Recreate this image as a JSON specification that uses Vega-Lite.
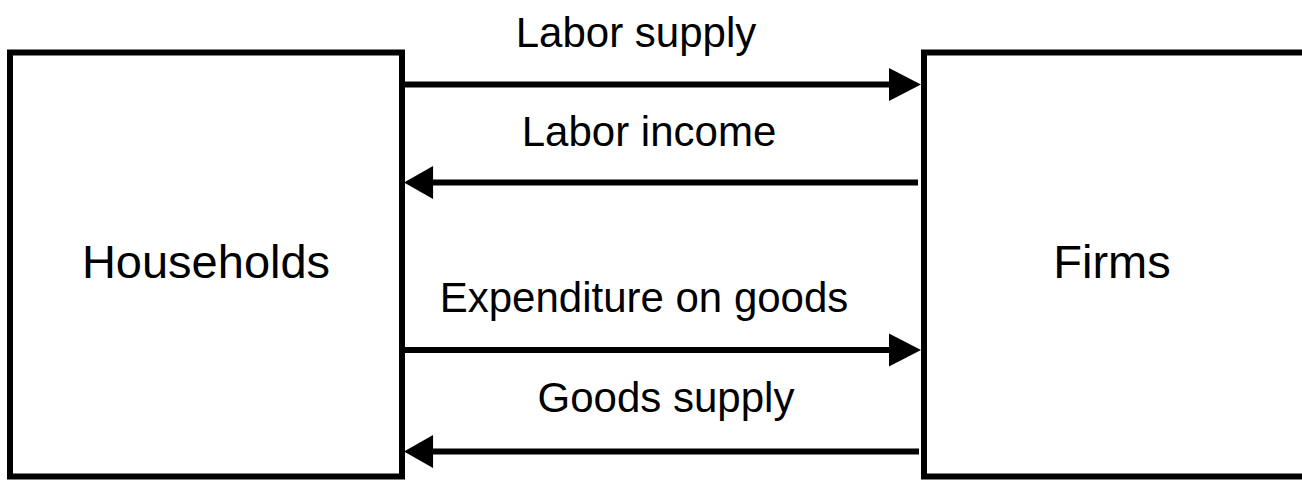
{
  "$schema": "https://vega.github.io/schema/vega-lite/v6.json",
  "width": 1302,
  "height": 480,
  "autosize": {"type": "fit", "contains": "padding"},
  "padding": 0,
  "background": "white",
  "config": {"view": {"stroke": null}, "font": "Liberation Sans"},
  "datasets": {
    "boxes": [
      {"name": "Households", "x0": 10, "x1": 402, "y0": 52.5, "y1": 476.5},
      {"name": "Firms", "x0": 924, "x1": 1345, "y0": 52.5, "y1": 476.5}
    ],
    "flows": [
      {"label": "Labor supply", "dir": "right", "start": 405, "end": 890, "tip": 921, "y": 84.5, "lx": 636, "ly": 47},
      {"label": "Labor income", "dir": "left", "start": 433, "end": 918, "tip": 404, "y": 182.5, "lx": 649, "ly": 146},
      {"label": "Expenditure on goods", "dir": "right", "start": 405, "end": 890, "tip": 921, "y": 350, "lx": 644, "ly": 312},
      {"label": "Goods supply", "dir": "left", "start": 433, "end": 919, "tip": 404, "y": 451.5, "lx": 666, "ly": 411.5}
    ],
    "names": [
      {"name": "Households", "cx": 206, "cy": 278},
      {"name": "Firms", "cx": 1112, "cy": 278}
    ]
  },
  "layer": [
    {
      "data": {"name": "boxes"},
      "mark": {"type": "rect", "fill": "white", "stroke": "black", "strokeWidth": 6, "clip": true},
      "encoding": {
        "x": {"field": "x0", "type": "quantitative", "scale": {"domain": [0, 1302], "nice": false, "zero": false}, "axis": null},
        "x2": {"field": "x1"},
        "y": {"field": "y0", "type": "quantitative", "scale": {"domain": [0, 480], "nice": false, "zero": false, "reverse": true}, "axis": null},
        "y2": {"field": "y1"}
      }
    },
    {
      "data": {"name": "flows"},
      "mark": {"type": "rule", "stroke": "black", "strokeWidth": 6, "strokeCap": "butt"},
      "encoding": {
        "x": {"field": "start", "type": "quantitative"},
        "x2": {"field": "end"},
        "y": {"field": "y", "type": "quantitative"}
      }
    },
    {
      "data": {"name": "flows"},
      "mark": {"type": "point", "filled": true, "color": "black", "opacity": 1, "size": 1089, "strokeWidth": 0},
      "encoding": {
        "x": {"field": "tip", "type": "quantitative"},
        "y": {"field": "y", "type": "quantitative"},
        "shape": {"field": "dir", "type": "nominal", "legend": null,
          "scale": {"domain": ["right", "left"], "range": ["M0,0L-1.94,-1L-1.94,1Z", "M0,0L1.76,-1L1.76,1Z"]}}
      }
    },
    {
      "data": {"name": "flows"},
      "mark": {"type": "text", "fontSize": 42, "color": "black", "align": "center", "baseline": "alphabetic"},
      "encoding": {
        "x": {"field": "lx", "type": "quantitative"},
        "y": {"field": "ly", "type": "quantitative"},
        "text": {"field": "label"}
      }
    },
    {
      "data": {"name": "names"},
      "mark": {"type": "text", "fontSize": 47, "color": "black", "align": "center", "baseline": "alphabetic"},
      "encoding": {
        "x": {"field": "cx", "type": "quantitative"},
        "y": {"field": "cy", "type": "quantitative"},
        "text": {"field": "name"}
      }
    }
  ]
}
